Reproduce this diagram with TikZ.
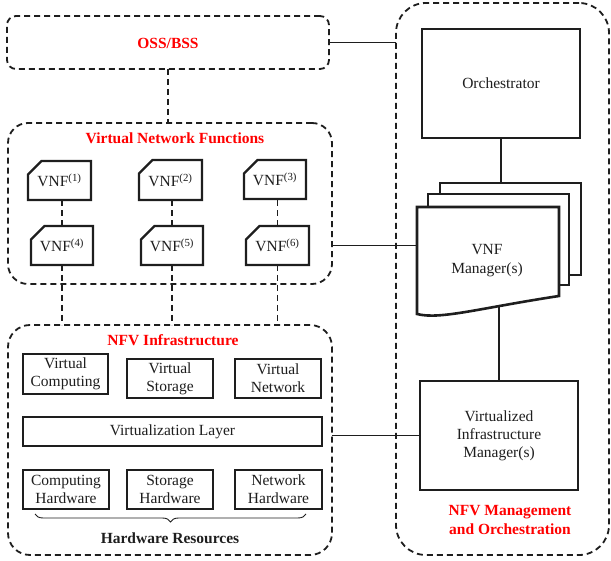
\documentclass[tikz,border=0pt]{standalone}
\usepackage{fontspec}
\setmainfont{Liberation Serif}
\usetikzlibrary{shapes.misc,decorations.pathreplacing,calc}
\definecolor{titlered}{RGB}{255,0,0}
\definecolor{ink}{RGB}{30,30,30}
\begin{document}
\begin{tikzpicture}[x=1pt,y=-1pt,
  every node/.style={font=\fontsize{15.5}{19}\selectfont, text=ink, inner sep=0pt, outer sep=0pt},
  container/.style={draw=ink, dash pattern=on 6pt off 4pt, line width=1.8pt, rounded corners=#1},
  box/.style={draw=ink, line width=2.6pt, fill=white, align=center},
  vnfbox/.style={chamfered rectangle, chamfered rectangle corners=north west,
     chamfered rectangle xsep=7pt, chamfered rectangle ysep=7pt,
     draw=ink, line width=2.4pt, fill=white},
  sheet/.style={draw=ink, line width=2.6pt, fill=white},
  title/.style={font=\fontsize{15.5}{19}\selectfont\bfseries, text=titlered, align=center},
  link/.style={draw=ink, line width=1.8pt},
  dlink/.style={draw=ink, line width=1.9pt, dash pattern=on 6pt off 4pt}
]
\useasboundingbox (0,0) rectangle (611,561);

% containers
\node[container=9pt, minimum width=322pt, minimum height=53pt] (oss) at (168,42.5) {};
\node[title] (osst) at (168,43) {OSS/BSS};
\node[container=20pt, minimum width=324pt, minimum height=161pt] (vnfc) at (170,203.5) {};
\node[title] (vnfct) at (175,138) {Virtual Network Functions};
\node[container=22pt, minimum width=324pt, minimum height=230pt] (nfvi) at (170,440) {};
\node[title] (nfvit) at (173,340) {NFV Infrastructure};
\node[container=30pt, minimum width=213pt, minimum height=552pt] (mano) at (502.5,279) {};
\node[title] (manot) at (510,520.5) {NFV Management\\and Orchestration};

% VNFs
\node[vnfbox, minimum width=63pt, minimum height=39pt] (v1) at (59.5,180.5) {VNF\textsuperscript{(1)}};
\node[vnfbox, minimum width=63pt, minimum height=40pt] (v2) at (170.5,180) {VNF\textsuperscript{(2)}};
\node[vnfbox, minimum width=62pt, minimum height=39pt] (v3) at (275,179.5) {VNF\textsuperscript{(3)}};
\node[vnfbox, minimum width=62pt, minimum height=39pt] (v4) at (62,245.5) {VNF\textsuperscript{(4)}};
\node[vnfbox, minimum width=62pt, minimum height=39pt] (v5) at (172,245.5) {VNF\textsuperscript{(5)}};
\node[vnfbox, minimum width=63pt, minimum height=39pt] (v6) at (277.5,245.5) {VNF\textsuperscript{(6)}};

% NFVI contents
\node[box, minimum width=85pt, minimum height=40pt] (vc) at (65.5,374) {Virtual\\[-1pt]Computing};
\node[box, minimum width=86pt, minimum height=39pt] (vs) at (170,378.5) {Virtual\\[-1pt]Storage};
\node[box, minimum width=86pt, minimum height=39pt] (vn) at (278,378.5) {Virtual\\[-1pt]Network};
\node[box, minimum width=299pt, minimum height=29pt] (vl) at (172.5,431.5) {Virtualization Layer};
\node[box, minimum width=86pt, minimum height=39pt] (ch) at (66,489.5) {Computing\\[-1pt]Hardware};
\node[box, minimum width=86pt, minimum height=39pt] (sh) at (170,489.5) {Storage\\[-1pt]Hardware};
\node[box, minimum width=87pt, minimum height=39pt] (nh) at (278.5,489.5) {Network\\[-1pt]Hardware};
\draw[draw=ink, line width=0.9pt, decorate, decoration={brace, mirror, amplitude=8pt}]
  ($(ch.south west)+(12,5)$) -- ($(nh.south east)+(-16,5)$);
\node[font=\fontsize{15.5}{19}\selectfont\bfseries] (hwr) at (170,538) {Hardware Resources};

% MANO contents
\node[box, minimum width=158pt, minimum height=109pt] (orch) at (501,83.5) {Orchestrator};
\node[sheet, minimum width=141pt, minimum height=92pt] (back) at (510.5,229) {};
\node[sheet, minimum width=141pt, minimum height=91pt] (mid) at (498.5,239.5) {};
\node[minimum width=142pt, minimum height=108pt] (vnfm) at (488,261) {};
\draw[sheet] (vnfm.north west) -- (vnfm.north east) -- (559,296)
   .. controls (480,308) and (440,320) .. (417,314) -- cycle;
\coordinate (wavemid) at (499,305.5);
\node[align=center] (vnfmt) at (487,260.5) {VNF\\Manager(s)};
\node[box, minimum width=158pt, minimum height=109pt] (vim) at (499,435.5) {Virtualized\\[-1pt]Infrastructure\\[-1pt]Manager(s)};

% connectors
\draw[link] (oss.east) -- (oss.east -| mano.west);
\draw[link] (vnfc.east |- v6) -- (vnfm.west |- v6);
\draw[link] (nfvi.east |- vim) -- (vim.west);
\draw[link] (orch.south) -- (orch.south |- back.north);
\draw[link] (wavemid) -- (wavemid |- vim.north);

\draw[dlink] (oss.south) -- (oss.south |- vnfc.north);
\draw[dlink] (v4.north) -- (v4.north |- v1.south);
\draw[dlink] (v5.north) -- (v5.north |- v2.south);
\draw[dlink] (v6.north) -- (v6.north |- v3.south);
\draw[dlink] (v4.south) -- (v4.south |- nfvi.north);
\draw[dlink] (v5.south) -- (v5.south |- nfvi.north);
\draw[dlink] (v6.south) -- (v6.south |- nfvi.north);
\end{tikzpicture}
\end{document}
